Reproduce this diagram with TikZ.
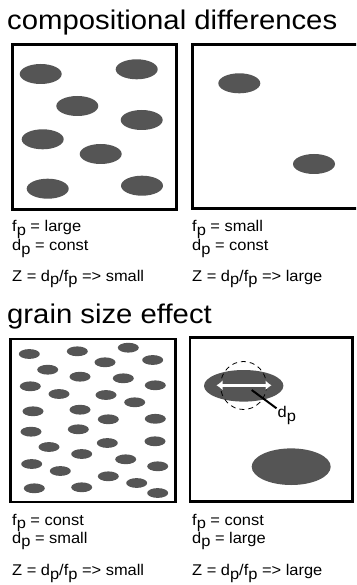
\documentclass[tikz,border=0pt]{standalone}
\usepackage{fontspec}
\setmainfont{Liberation Sans}
\usetikzlibrary{arrows.meta}
\definecolor{grainc}{RGB}{85,85,85}
\newcommand\sbp{\raisebox{-3.6pt}{p}}
\newcommand\widt[1]{\scalebox{1.085}[1]{#1}}
\newcommand\wid[1]{\scalebox{1.06}[1]{#1}}
\tikzset{
  frame/.style={draw=black, line width=2.6pt},
  grain/.style={fill=grainc},
  ttl/.style={anchor=base west, inner sep=0pt, font=\fontsize{27}{32}\selectfont},
  lbl/.style={anchor=base west, inner sep=0pt, font=\fontsize{15.5}{18}\selectfont},
}
\begin{document}
\begin{tikzpicture}[x=1pt, y=-1pt]
\useasboundingbox (0,0) rectangle (356,585);
\clip (0,0) rectangle (356,585);
\fill[white] (0,0) rectangle (356,585);

% ---------- compositional differences ----------
\node[ttl] (t1) at (7,30) {\widt{compositional differences}};
\draw[frame] (12.3,44.3) rectangle (176.7,209.7);
\draw[frame] (192.3,44.3) rectangle (372,208.3);

\foreach \x/\y in {40.7/74, 136.7/69.3, 77.3/106, 141.7/120, 42.7/139.3, 100.7/154, 47.7/188.7, 142/185.7, 239.3/83.3, 314/164}
  \fill[grain] (\x,\y) ellipse [x radius=21, y radius=10];

\node[lbl] (a1) at (12,231.7) {\wid{f\sbp{} = large}};
\node[lbl] (a2) at (12,250.5) {\wid{d\sbp{} = const}};
\node[lbl] (a3) at (12,281) {\wid{Z = d\sbp/f\sbp{} => small}};
\node[lbl] (b1) at (192,231.7) {\wid{f\sbp{} = small}};
\node[lbl] (b2) at (192,250.5) {\wid{d\sbp{} = const}};
\node[lbl] (b3) at (192,281) {\wid{Z = d\sbp/f\sbp{} => large}};

% ---------- grain size effect ----------
\node[ttl] (t2) at (7,323.3) {\widt{grain size effect}};
\draw[frame] (10.3,339) rectangle (175.4,502);
\draw[frame] (190,337.3) rectangle (352.7,501.4);

\foreach \x/\y in {29.3/354, 77.3/351.3, 47.7/369.7, 80/376.7, 30.3/386.3, 59/394, 33/411.3, 80/409.7,
  128.3/347.7, 105/362.3, 152.7/360, 123.3/378.3, 155.3/385.3, 106/395, 134.7/402.3, 108.3/419.3, 155.3/418.8,
  31/431.7, 78.3/429.3, 49/447, 81.7/454, 31.7/464, 60.3/471, 34.3/488.3, 81.7/487.3,
  107.3/443, 155/441.3, 125.7/459.3, 157.7/466.3, 108.3/476.3, 136.7/483, 157.7/493}
  \fill[grain] (\x,\y) ellipse [x radius=10.5, y radius=4.9];

\fill[grain] (243.7,385.8) ellipse [x radius=39.7, y radius=15.8];
\fill[grain] (291.2,466.7) ellipse [x radius=39.5, y radius=18.3];
\draw[dashed, dash pattern=on 5pt off 4pt, line width=0.8pt] (243.5,385.5) ellipse [x radius=23, y radius=24];
\coordinate (wl) at (216.5,385.3);
\coordinate (wr) at (271.5,385.3);
\draw[white, line width=2.6pt, {Latex[length=6pt,width=10pt]}-{Latex[length=6pt,width=10pt]}] (wl) -- (wr);
\node[lbl] (dp) at (277.5,417.7) {\wid{d\sbp}};
\coordinate (ls) at (251.7,390);
\coordinate (le) at (276.5,408.3);
\draw[line width=2pt] (ls) -- (le);

\node[lbl] (c1) at (12,525) {\wid{f\sbp{} = const}};
\node[lbl] (c2) at (12,543.3) {\wid{d\sbp{} = small}};
\node[lbl] (c3) at (12,575.5) {\wid{Z = d\sbp/f\sbp{} => small}};
\node[lbl] (e1) at (192,525) {\wid{f\sbp{} = const}};
\node[lbl] (e2) at (192,543.3) {\wid{d\sbp{} = large}};
\node[lbl] (e3) at (192,575.5) {\wid{Z = d\sbp/f\sbp{} => large}};
\end{tikzpicture}
\end{document}
